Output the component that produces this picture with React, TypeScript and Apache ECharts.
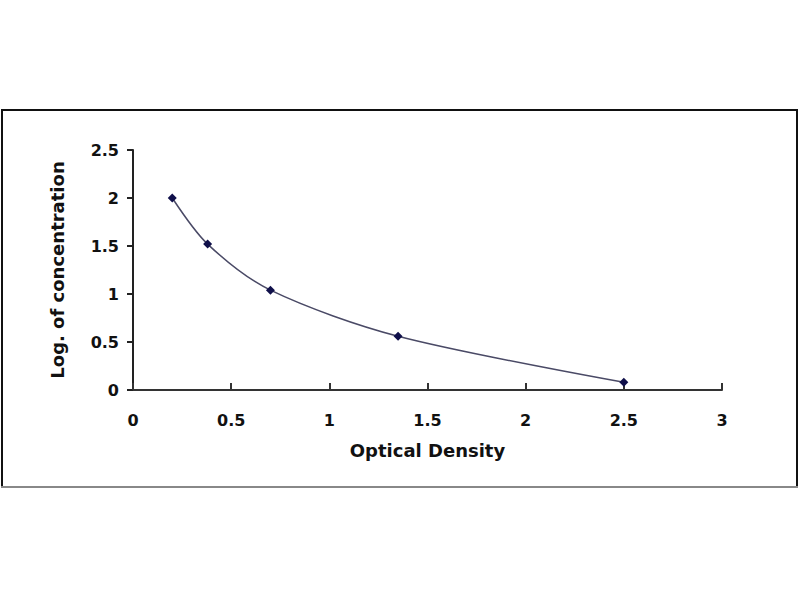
import { useEffect, useRef } from "react";
import * as echarts from "echarts";

const opticalDensity = [0.2, 0.38, 0.7, 1.35, 2.5];
const logConcentration = [2.0, 1.52, 1.04, 0.56, 0.08];

const FONT = "DejaVu Sans";

export default function App() {
  const chartRef = useRef<HTMLDivElement>(null);

  useEffect(() => {
    if (!chartRef.current) return;
    const chart = echarts.init(chartRef.current, undefined, { renderer: "svg" });

    chart.setOption({
      animation: false,
      backgroundColor: "#fff",
      grid: { left: 133, right: 78, top: 150, bottom: 210 },
      xAxis: {
        type: "value",
        min: 0,
        max: 3,
        interval: 0.5,
        name: "Optical Density",
        nameLocation: "middle",
        nameGap: 51,
        nameTextStyle: { fontFamily: FONT, fontWeight: "bold", fontSize: 18, color: "#111" },
        axisLine: { lineStyle: { color: "#333", width: 2 } },
        axisTick: { inside: true, length: 7, lineStyle: { color: "#333", width: 2 } },
        axisLabel: { margin: 22, fontFamily: FONT, fontWeight: "bold", fontSize: 16, color: "#111" },
        splitLine: { show: false },
      },
      yAxis: {
        type: "value",
        min: 0,
        max: 2.5,
        interval: 0.5,
        name: "Log. of concentration",
        nameLocation: "middle",
        nameGap: 67,
        nameTextStyle: { fontFamily: FONT, fontWeight: "bold", fontSize: 18, color: "#111" },
        axisLine: { show: true, lineStyle: { color: "#222", width: 2 } },
        axisTick: { show: true, length: 6, lineStyle: { color: "#222", width: 2 } },
        axisLabel: { margin: 14, fontFamily: FONT, fontWeight: "bold", fontSize: 16, color: "#111" },
        splitLine: { show: false },
      },
      series: [
        {
          type: "line",
          data: opticalDensity.map((x, i) => [x, logConcentration[i]]),
          smooth: 0.3,
          symbol: "diamond",
          symbolSize: 9,
          itemStyle: { color: "#10104a" },
          lineStyle: { color: "#4a4a66", width: 1.5 },
        },
      ],
      graphic: [
        { type: "line", shape: { x1: 1, y1: 110, x2: 798, y2: 110 }, style: { stroke: "#111", lineWidth: 2 } },
        { type: "line", shape: { x1: 2, y1: 110, x2: 2, y2: 488 }, style: { stroke: "#111", lineWidth: 2 } },
        { type: "line", shape: { x1: 797, y1: 110, x2: 797, y2: 488 }, style: { stroke: "#111", lineWidth: 2 } },
        { type: "line", shape: { x1: 1, y1: 487, x2: 798, y2: 487 }, style: { stroke: "#888", lineWidth: 2 } },
      ],
    });

    return () => chart.dispose();
  }, []);

  return (
    <div
      ref={chartRef}
      style={{ position: "absolute", left: 0, top: 0, width: 800, height: 600 }}
    />
  );
}
